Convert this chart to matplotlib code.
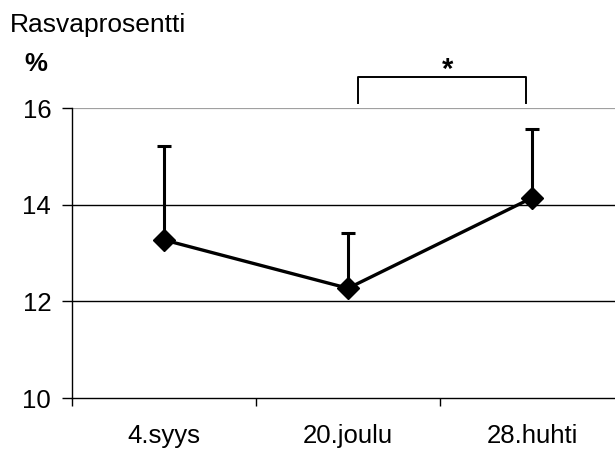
import matplotlib
matplotlib.use("Agg")
import matplotlib.pyplot as plt
import numpy as np

categories = ["4.syys", "20.joulu", "28.huhti"]
values = [13.27, 12.27, 14.14]
upper_err = [1.95, 1.14, 1.43]
yticks = [10, 12, 14, 16]
title = "Rasvaprosentti"
unit = "%"
sig_pair = (1, 2)
sig_label = "*"

plt.rcParams['font.family'] = ['Liberation Sans', 'DejaVu Sans']

fig = plt.figure(figsize=(6.15, 4.5), dpi=100)
# plot area: x 72..624 px, y 108..398 px
ax = fig.add_axes([72/615, (450-398)/450, (624-72)/615, (398-108)/450])

x = np.arange(len(categories))
ax.errorbar(x, values, yerr=[np.zeros(len(values)), upper_err], fmt='none',
            ecolor='black', elinewidth=2.2, capsize=5, capthick=2.2, zorder=3)
ax.plot(x, values, color='black', linewidth=2.4, marker='D', markersize=11,
        markerfacecolor='black', markeredgecolor='black', zorder=4)

ax.set_xlim(-0.5, len(categories) - 0.5)
ax.set_ylim(10, 16)
ax.set_yticks(yticks)
ax.set_yticklabels([str(v) for v in yticks], fontsize=18.5)
for v in yticks[1:-1]:
    ax.axhline(v, color='black', linewidth=1.0, zorder=1)
ax.axhline(yticks[-1], color='#a0a0a0', linewidth=1.6, zorder=1)

ax.set_xticks(np.arange(len(categories) + 1) - 0.5, minor=False)
ax.set_xticklabels([])
ax.set_xticks(x, minor=True)
ax.set_xticklabels(categories, minor=True, fontsize=18.5)
ax.tick_params(axis='x', which='minor', length=0, pad=19)
ax.tick_params(axis='x', which='major', length=6, width=1, direction='out')
ax.tick_params(axis='y', length=7, width=1, direction='out', pad=8)

for s in ['top', 'right']:
    ax.spines[s].set_visible(False)
ax.spines['left'].set_linewidth(1)
ax.spines['bottom'].set_linewidth(1)

# significance bracket
x1 = sig_pair[0] + 0.055
x2 = sig_pair[1] - 0.035
yb, yt = 16.1, 16.64
ax.plot([x1, x1, x2, x2], [yb, yt, yt, yb], color='black', linewidth=1.4,
        clip_on=False, zorder=5)
ax.text(1.54, 16.78, sig_label, ha='center', va='center',
        fontsize=21, fontweight='bold', clip_on=False)

fig.text(10/615, 1 - 25/450, title, ha='left', va='center', fontsize=19)
fig.text(36/615, 1 - 64/450, unit, ha='center', va='center', fontsize=18.5,
         fontweight='bold')

fig.savefig("out.png", dpi=100)
